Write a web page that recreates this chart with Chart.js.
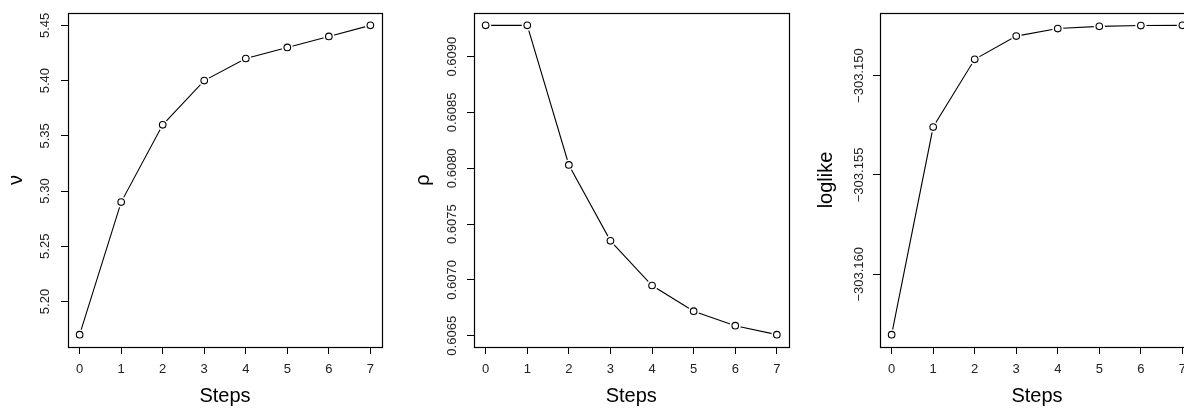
<!DOCTYPE html>
<html>
<head>
<meta charset="utf-8">
<script src="https://cdn.jsdelivr.net/npm/chart.js@4/dist/chart.umd.min.js"></script>
<style>
  html, body { margin: 0; padding: 0; background: #fff; overflow: hidden; }
  body { width: 1184px; height: 408px; position: relative; }
  .panel { position: absolute; top: 0; height: 408px; }
</style>
</head>
<body>
<div class="panel" id="p1" style="left:0px;width:394px"><canvas id="c1"></canvas></div>
<div class="panel" id="p2" style="left:400px;width:394px"><canvas id="c2"></canvas></div>
<div class="panel" id="p3" style="left:806px;width:394px"><canvas id="c3"></canvas></div>
<script>
// steps on the x axis (same for all three panels)
const steps = [0, 1, 2, 3, 4, 5, 6, 7];
const stepTicks = [0, 1, 2, 3, 4, 5, 6, 7];

// panel 1: nu
const nuValues = [5.17, 5.29, 5.36, 5.40, 5.42, 5.43, 5.44, 5.45];
const nuTicks = [5.20, 5.25, 5.30, 5.35, 5.40, 5.45];

// panel 2: rho
const rhoValues = [0.60928, 0.60928, 0.60803, 0.60735, 0.60695, 0.60672, 0.60659, 0.60651];
const rhoTicks = [0.6065, 0.6070, 0.6075, 0.6080, 0.6085, 0.6090];

// panel 3: loglike
const loglikeValues = [-303.16304, -303.15259, -303.14918, -303.14801, -303.14763, -303.14752, -303.14748, -303.14747];
const loglikeTicks = [-303.160, -303.155, -303.150];

const FONT = "'Liberation Sans', Arial, Helvetica, sans-serif";

// R style range: data range padded by 4% on each side
function rRange(vals) {
  const lo = Math.min(...vals), hi = Math.max(...vals);
  const pad = (hi - lo) * 0.04;
  return [lo - pad, hi + pad];
}

// draws the box round the plot region
const boxPlugin = {
  id: "box",
  afterDraw(chart) {
    const a = chart.chartArea;
    const ctx = chart.ctx;
    ctx.save();
    ctx.strokeStyle = "#000";
    ctx.lineWidth = 1.2;
    ctx.strokeRect(Math.round(a.left) + 0.5, Math.round(a.top) + 0.5,
      Math.round(a.right - a.left), Math.round(a.bottom - a.top));
    ctx.restore();
  }
};

function makePanel(id, values, yTicks, yTitle, digits, opt) {
  const pts = steps.map((s, i) => ({ x: s, y: values[i] }));
  const [xmin, xmax] = rRange(steps);
  const [ymin, ymax] = rRange(values);
  new Chart(document.getElementById(id), {
    type: "line",
    data: {
      datasets: [
        { data: pts, borderColor: "#000", borderWidth: 1.1, pointRadius: 0, order: 3 },
        { data: pts, showLine: false, pointRadius: 5.5, pointBorderWidth: 0,
          pointBackgroundColor: "#fff", pointBorderColor: "#fff", order: 2 },
        { data: pts, showLine: false, pointRadius: 3.3, pointBorderWidth: 1.1,
          pointBackgroundColor: "#fff", pointBorderColor: "#000", order: 1 }
      ]
    },
    options: {
      responsive: true,
      maintainAspectRatio: false,
      animation: false,
      events: [],
      layout: { padding: { top: 13, right: opt.right, left: 0, bottom: 0 } },
      plugins: { legend: { display: false }, tooltip: { enabled: false } },
      scales: {
        x: {
          type: "linear",
          min: xmin, max: xmax,
          afterBuildTicks: (s) => { s.ticks = stepTicks.map(v => ({ value: v })); },
          afterFit: (s) => { s.height = 61; },
          border: { display: false },
          grid: { drawOnChartArea: false, drawTicks: true, tickLength: 7, color: "#000", lineWidth: 1 },
          ticks: { color: "#222", font: { family: FONT, size: 13 }, padding: 7.5,
                   maxRotation: 0, callback: (v) => String(v) },
          title: { display: true, text: "Steps", color: "#000",
                   font: { family: FONT, size: 20 }, padding: { top: 0, bottom: 0 } }
        },
        y: {
          type: "linear",
          min: ymin, max: ymax,
          afterBuildTicks: (s) => { s.ticks = yTicks.map(v => ({ value: v })); },
          afterFit: (s) => { s.width = opt.yWidth; },
          border: { display: false },
          grid: { drawOnChartArea: false, drawTicks: true, tickLength: 7, color: "#000", lineWidth: 1 },
          ticks: { color: "#222", font: { family: FONT, size: 13 }, padding: opt.tickPad,
                   minRotation: 90, maxRotation: 90, crossAlign: "center",
                   callback: (v) => v.toFixed(digits).replace("-", "\u2212") },
          title: { display: true, text: yTitle, color: "#000",
                   font: { family: FONT, size: 20 }, padding: { top: opt.titlePad, bottom: 0 } }
        }
      }
    },
    plugins: [boxPlugin]
  });
}

makePanel("c1", nuValues, nuTicks, "\u03bd", 2, { right: 12, yWidth: 68, tickPad: 2.5, titlePad: 4 });
makePanel("c2", rhoValues, rhoTicks, "\u03c1", 4, { right: 5, yWidth: 74, tickPad: -5, titlePad: 11 });
makePanel("c3", loglikeValues, loglikeTicks, "loglike", 3, { right: 6, yWidth: 74, tickPad: -13.6, titlePad: 8 });
</script>
</body>
</html>
